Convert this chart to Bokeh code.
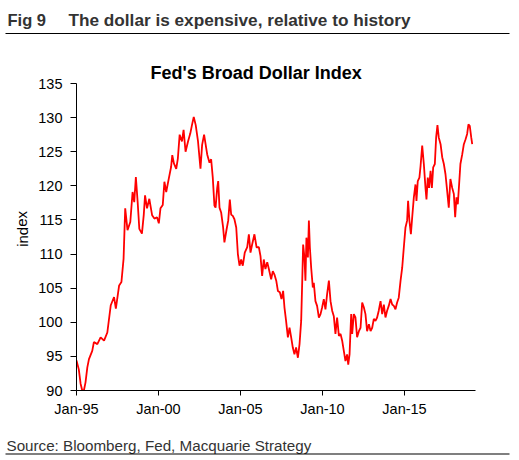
from bokeh.plotting import figure
from bokeh.models import Range1d, FixedTicker, BoxAnnotation
from bokeh.core.properties import value
from bokeh.layouts import column, row
from bokeh.embed import file_html
from bokeh.resources import INLINE

# ---- data ----
years = [
    1995.00, 1995.14, 1995.25, 1995.35, 1995.45, 1995.55, 1995.66, 1995.76, 1995.96,
    1996.06, 1996.27, 1996.47, 1996.68, 1996.88,
    1997.09, 1997.29, 1997.40, 1997.60, 1997.74, 1997.87, 1997.97,
    1998.11, 1998.28, 1998.42, 1998.52, 1998.62, 1998.73, 1998.83, 1998.99,
    1999.10, 1999.18, 1999.30, 1999.44, 1999.61, 1999.75, 1999.91,
    2000.02, 2000.12, 2000.26, 2000.36, 2000.47, 2000.63, 2000.77, 2000.84, 2000.94,
    2001.08, 2001.18, 2001.29, 2001.43, 2001.53, 2001.65, 2001.80, 2001.94,
    2002.04, 2002.15, 2002.27, 2002.41, 2002.56, 2002.66, 2002.78, 2002.97,
    2003.11, 2003.21, 2003.31, 2003.41, 2003.48, 2003.58, 2003.64, 2003.72, 2003.82, 2003.94,
    2004.02, 2004.15, 2004.25, 2004.35, 2004.43, 2004.53, 2004.63, 2004.74, 2004.84, 2004.94,
    2005.04, 2005.14, 2005.26, 2005.41, 2005.51, 2005.61, 2005.71, 2005.85, 2005.98,
    2006.12, 2006.22, 2006.32, 2006.42, 2006.52, 2006.63, 2006.73, 2006.87, 2006.97,
    2007.07, 2007.18, 2007.28, 2007.40, 2007.50, 2007.60, 2007.68, 2007.78, 2007.89, 2007.99,
    2008.09, 2008.19, 2008.29, 2008.39, 2008.50, 2008.60, 2008.70, 2008.76, 2008.82, 2008.90, 2008.96,
    2009.02, 2009.11, 2009.17, 2009.23, 2009.31, 2009.41, 2009.47, 2009.57, 2009.67, 2009.78, 2009.88, 2009.98,
    2010.08, 2010.18, 2010.28, 2010.39, 2010.49, 2010.59, 2010.69, 2010.79, 2010.89,
    2011.00, 2011.10, 2011.20, 2011.30, 2011.40, 2011.50, 2011.57, 2011.65, 2011.75, 2011.81, 2011.91,
    2012.01, 2012.11, 2012.22, 2012.32, 2012.42, 2012.52, 2012.62, 2012.72, 2012.83, 2012.93,
    2013.03, 2013.13, 2013.23, 2013.33, 2013.43, 2013.54, 2013.64, 2013.74, 2013.84, 2013.94,
    2014.04, 2014.15, 2014.25, 2014.35, 2014.45, 2014.55, 2014.65, 2014.76, 2014.86, 2014.96,
    2015.06, 2015.16, 2015.22, 2015.30, 2015.39, 2015.47, 2015.57, 2015.67, 2015.73, 2015.81, 2015.91, 2015.98,
    2016.08, 2016.18, 2016.28, 2016.34, 2016.42, 2016.50, 2016.59, 2016.67, 2016.75, 2016.85, 2016.93,
    2017.01, 2017.09, 2017.20, 2017.30, 2017.40, 2017.50, 2017.60, 2017.70, 2017.80, 2017.91,
    2018.01, 2018.09, 2018.17, 2018.25, 2018.33, 2018.41, 2018.52, 2018.62, 2018.72, 2018.82, 2018.90, 2018.98,
    2019.07, 2019.13,
]
index_values = [
    94.4, 93.1, 91.0, 90.0, 90.0, 91.2, 93.4, 94.6, 95.8,
    97.1, 96.8, 97.8, 97.3, 98.5,
    102.5, 103.7, 102.0, 105.4, 105.9, 109.3, 116.7,
    113.5, 114.7, 119.1, 117.6, 121.3, 117.6, 113.7, 113.0,
    115.7, 118.6, 116.7, 118.1, 115.7, 115.2, 115.4,
    114.5, 116.7, 117.2, 120.6, 119.1, 121.1, 122.8, 124.5, 123.3,
    122.5, 124.0, 127.5, 126.5, 128.2, 125.0, 126.5, 127.7,
    128.9, 130.1, 128.9, 126.5, 122.5, 126.0, 127.5, 124.6,
    123.4, 123.9, 121.2, 117.1, 116.8, 119.7, 120.7, 116.8, 116.1, 113.9,
    111.7, 113.6, 114.9, 118.0, 115.8, 115.6, 115.1, 113.9, 110.0, 108.3,
    109.2, 108.3, 110.2, 111.0, 112.9, 110.2, 111.4, 112.9, 111.0,
    111.0, 109.7, 106.8, 109.2, 107.8, 108.8, 107.8, 106.3, 107.5,
    107.0, 106.1, 104.6, 104.4, 103.4, 104.6, 102.2, 100.2, 97.8, 99.2,
    97.8, 96.3, 95.3, 96.3, 94.8, 96.8, 100.2, 105.6, 111.4, 109.5, 106.1,
    112.4, 109.5, 114.9, 111.0, 108.0, 105.1, 105.8, 103.1, 102.4, 100.7, 101.2, 102.2,
    103.4, 101.9, 104.1, 106.1, 103.1, 101.7, 100.9, 98.3, 100.7,
    98.0, 98.3, 97.3, 95.8, 94.3, 95.3, 93.8, 95.3, 101.2, 98.3, 101.2,
    100.7, 97.8, 98.7, 99.2, 102.9, 102.2, 101.2, 98.7, 99.7, 98.7,
    99.2, 100.5, 100.2, 100.7, 101.7, 103.1, 101.2, 102.6, 100.7, 101.7,
    102.4, 103.4, 102.6, 102.4, 101.9, 102.9, 103.6, 106.1, 108.0, 111.0,
    113.9, 114.9, 117.8, 114.9, 112.9, 115.4, 118.3, 120.2, 117.8, 120.7, 121.2, 122.9,
    125.9, 123.2, 119.7, 118.0, 121.2, 119.7, 122.2, 119.7, 122.7, 123.2, 127.1,
    128.9, 127.1, 126.1, 124.2, 123.2, 121.7, 119.3, 116.8, 121.0, 119.7,
    118.8, 115.4, 118.3, 117.3, 120.2, 123.2, 124.6, 126.1, 126.8, 127.6, 129.0, 128.8,
    127.1, 126.1,
]
x_tick_years = [1995, 2000, 2005, 2010, 2015]
x_tick_labels = ["Jan-95", "Jan-00", "Jan-05", "Jan-10", "Jan-15"]
y_ticks = [90, 95, 100, 105, 110, 115, 120, 125, 130, 135]

header_fig = "Fig 9"
header_text = "The dollar is expensive, relative to history"
chart_title = "Fed's Broad Dollar Index"
y_label = "index"
source_text = "Source: Bloomberg, Fed, Macquarie Strategy"

FONT = "Liberation Sans"
W = 519
TOP_H = 50
MAIN_H = 428 - TOP_H
BOT_H = 30


def blank(width, height):
    f = figure(width=width, height=height, output_backend="svg", toolbar_location=None,
               x_range=Range1d(0, width), y_range=Range1d(0, height),
               x_axis_type=None, y_axis_type=None, min_border=0)
    f.outline_line_color = None
    f.grid.visible = False
    return f


def put_text(f, x, y, txt, size, bold=False, color="black", align="left",
             baseline="alphabetic", angle=0.0):
    f.text(x=[x], y=[y], text=[txt], text_font=value(FONT), text_font_size=value(size),
           text_font_style="bold" if bold else "normal", text_color=color,
           text_align=align, text_baseline=baseline, angle=angle)


# ---- header panel (page y 0..50), data y = 50 - page_y ----
top = blank(W, TOP_H)
put_text(top, 7, TOP_H - 25.5 + 6, header_fig, "16.5px", bold=True, color="#333333")
put_text(top, 68, TOP_H - 25.5 + 6, header_text, "17.2px", bold=True, color="#333333")
top.add_layout(BoxAnnotation(left=5, right=509, bottom=TOP_H - 33.5, top=TOP_H - 32.5,
                             fill_color="black", fill_alpha=1.0, line_alpha=0))

# ---- y label panel (page x 0..30) ----
side = blank(30, MAIN_H)
put_text(side, 21.5, MAIN_H - (220 - TOP_H) - 9, y_label, "15px", align="center",
         baseline="middle", angle=1.5708)

# ---- main chart (page x 30..519, y 50..428) ----
p = figure(
    width=W - 30, height=MAIN_H,
    output_backend="svg", toolbar_location=None,
    x_range=Range1d(1995.0, 2019.33), y_range=Range1d(90, 135),
    min_border_left=46, min_border_right=44, min_border_top=83 - TOP_H, min_border_bottom=38,
)
p.outline_line_color = None
p.grid.visible = False

p.title.text = chart_title
p.title.align = "left"
p.title.offset = 74
p.title.vertical_align = "bottom"
p.title.standoff = 2
p.title.text_font = FONT
p.title.text_font_size = "18px"
p.title.text_font_style = "bold"
p.title.text_color = "black"

p.line(years, index_values, line_color="#ff0000", line_width=1.8)

xa = p.xaxis[0]
xa.ticker = FixedTicker(ticks=x_tick_years)
xa.major_label_overrides = {y: l for y, l in zip(x_tick_years, x_tick_labels)}
xa.minor_tick_line_color = None
xa.major_tick_in = 0
xa.major_tick_out = 5
xa.major_label_standoff = 5
xa.axis_line_color = "black"
xa.major_tick_line_color = "black"
xa.major_label_text_font = FONT
xa.major_label_text_font_size = "14.5px"
xa.major_label_text_color = "black"

ya = p.yaxis[0]
ya.ticker = FixedTicker(ticks=y_ticks)
ya.minor_tick_line_color = None
ya.major_tick_in = 0
ya.major_tick_out = 6
ya.major_label_standoff = 8
ya.axis_line_color = "black"
ya.major_tick_line_color = "black"
ya.major_label_text_font = FONT
ya.major_label_text_font_size = "14.5px"
ya.major_label_text_color = "black"

# ---- source panel (page y 428..458), data y = 458 - page_y ----
bottom = blank(W, BOT_H)
put_text(bottom, 6, 458 - 450 + 5, source_text, "15.2px", color="#333333")
bottom.add_layout(BoxAnnotation(left=5, right=509, bottom=458 - 454, top=458 - 453,
                                fill_color="black", fill_alpha=1.0, line_alpha=0))

layout = column(top, row(side, p), bottom)
open("out.html", "w").write(file_html(layout, INLINE))
